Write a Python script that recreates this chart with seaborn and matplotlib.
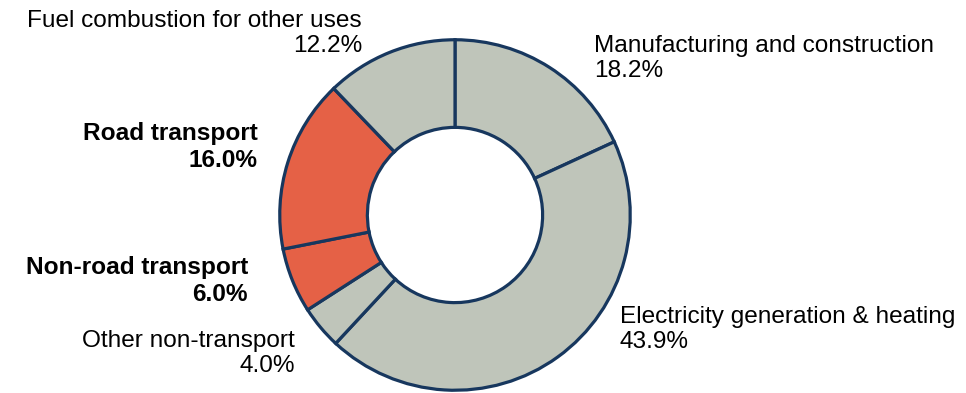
import matplotlib
matplotlib.use("Agg")
import matplotlib.pyplot as plt
import seaborn as sns

sectors = ["Manufacturing and construction", "Electricity generation & heating",
           "Other non-transport", "Non-road transport", "Road transport",
           "Fuel combustion for other uses"]
shares = [18.2, 43.9, 4.0, 6.0, 16.0, 12.2]
is_transport = [False, False, False, True, True, False]

sns.set_theme(style="white")
plt.rcParams["font.family"] = ["Liberation Sans", "DejaVu Sans"]

grey = "#BFC5BA"
red = "#E56146"
navy = "#17375E"
colors = [red if t else grey for t in is_transport]

fig = plt.figure(figsize=(9.66, 3.93), dpi=100)
W, H = 966, 393
cx, cy, R = 455, 215, 177
ax = fig.add_axes([(cx - R) / W, (H - cy - R) / H, 2 * R / W, 2 * R / H])
ax.pie(shares, colors=colors, startangle=90, counterclock=False, radius=1,
       wedgeprops=dict(width=0.5, edgecolor=navy, linewidth=2.3))
ax.set_xlim(-1.01, 1.01)
ax.set_ylim(-1.01, 1.01)
ax.axis("off")

# label anchors in pixels (x, y of first line, alignment)
label_pos = [(594, 45, "left"), (620, 316, "left"), (295, 340, "right"),
             (248, 266, "right"), (258, 132, "right"), (362, 20, "right")]
for name, val, t, (x, y, ha) in zip(sectors, shares, is_transport, label_pos):
    fig.text(x / W, 1 - (y - 10) / H, f"{name}\n{val:.1f}%", ha=ha, va="top",
             multialignment=ha, fontsize=17.6, color="black",
             fontweight="bold" if t else "normal", linespacing=1.2)

fig.savefig("out.png", dpi=100)
